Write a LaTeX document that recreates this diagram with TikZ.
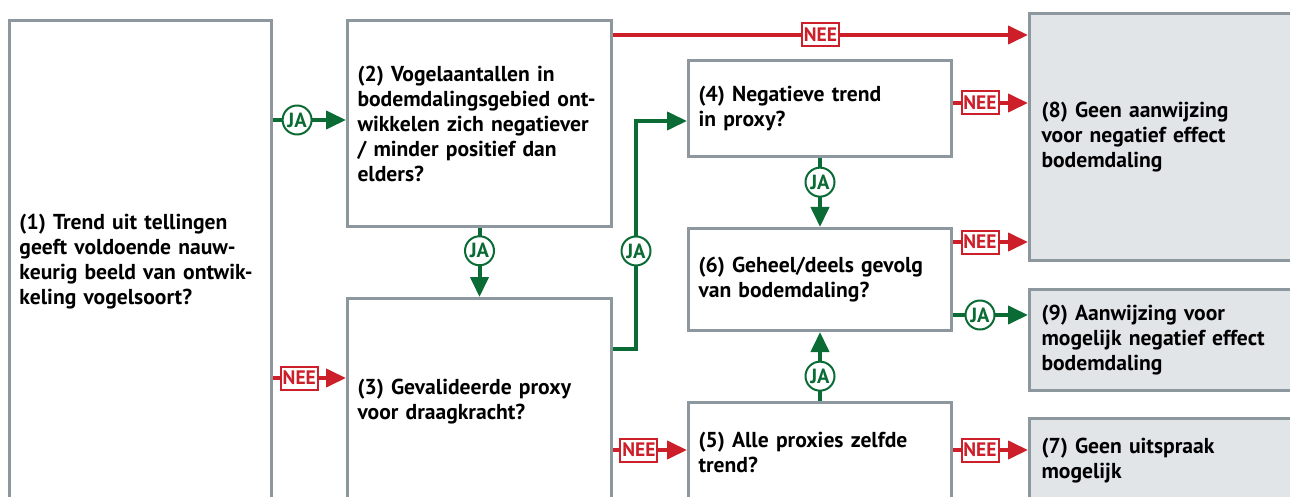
\documentclass[tikz,border=0pt]{standalone}
\usepackage{fontspec}
\setmainfont{PT Sans}
\usetikzlibrary{arrows.meta}
\definecolor{jagreen}{HTML}{0B6B35}
\definecolor{neered}{HTML}{CC1F2A}
\definecolor{boxgray}{HTML}{8D979E}
\definecolor{endfill}{HTML}{E1E5E8}
\begin{document}
\begin{tikzpicture}[x=1pt, y=-1pt,
  box/.style={rectangle, draw=boxgray, line width=3pt, anchor=north west, align=left,
    inner xsep=10pt, font=\fontsize{21.6}{25}\selectfont\bfseries},
  endbox/.style={box, fill=endfill, inner xsep=12pt},
  ja/.style={draw=jagreen, line width=4pt, -{Triangle[length=20pt, width=18pt]}},
  nee/.style={draw=neered, line width=4pt, -{Triangle[length=20pt, width=18pt]}},
  jalbl/.style={circle, draw=jagreen, line width=2pt, fill=white, text=jagreen, inner sep=0pt,
    minimum size=29pt, font=\fontsize{20.5}{20.5}\selectfont\bfseries},
  neelbl/.style={rectangle, draw=neered, line width=2pt, fill=white, text=neered, inner sep=0pt,
    minimum width=37pt, minimum height=23pt, font=\fontsize{19.5}{19.5}\selectfont\bfseries}]
  \clip (0,0) rectangle (1290,497);

  % questions
  \node[box, minimum width=262pt, minimum height=482pt, text width=242pt] (b1) at (8,19)
    {(1) Trend uit tellingen\\ geeft voldoende nauw-\\ keurig beeld van ontwik-\\ keling vogelsoort?};
  \node[box, minimum width=264pt, minimum height=206pt, text width=244pt] (b2) at (346,19)
    {(2) Vogelaantallen in\\ bodemdalingsgebied ont-\\ wikkelen zich negatiever\\ / minder positief dan\\ elders?};
  \node[box, minimum width=264pt, minimum height=206pt, text width=244pt] (b3) at (346,297)
    {(3) Gevalideerde proxy\\ voor draagkracht?};
  \node[box, minimum width=263pt, minimum height=96pt, text width=243pt] (b4) at (687,59)
    {(4) Negatieve trend\\ in proxy?};
  \node[box, minimum width=263pt, minimum height=102pt, text width=243pt] (b6) at (687,227)
    {(6) Geheel/deels gevolg\\ van bodemdaling?};
  \node[box, minimum width=263pt, minimum height=100pt, text width=243pt] (b5) at (687,401)
    {(5) Alle proxies zelfde\\ trend?};

  % outcomes
  \node[endbox, minimum width=272pt, minimum height=247pt, text width=248pt] (b8) at (1028,12)
    {(8) Geen aanwijzing\\ voor negatief effect\\ bodemdaling};
  \node[endbox, minimum width=272pt, minimum height=101pt, text width=248pt] (b9) at (1028,288)
    {(9) Aanwijzing voor\\ mogelijk negatief effect\\ bodemdaling};
  \node[endbox, minimum width=272pt, minimum height=84pt, text width=248pt] (b7) at (1028,417)
    {(7) Geen uitspraak\\ mogelijk};

  % JA
  \draw[ja] (b1.east |- 0,120) -- node[jalbl, pos=.33] {JA} (b2.west |- 0,120);
  \draw[ja] (b2.south) -- node[jalbl, pos=.33] {JA} (b3.north);
  \draw[ja] (b3.east |- 0,349) -- (636,349) -- node[jalbl, pos=.43] {JA} (636,121) -- (b4.west |- 0,121);
  \draw[ja] (b4.south) -- node[jalbl, pos=.35] {JA} (b6.north);
  \draw[ja] (b5.north) -- node[jalbl, pos=.36] {JA} (b6.south);
  \draw[ja] (b6.east |- 0,315) -- node[jalbl, pos=.36] {JA} (b9.west |- 0,315);

  % NEE
  \draw[nee] (b2.east |- 0,35) -- node[neelbl, pos=.5] {NEE} (b8.west |- 0,35);
  \foreach \from/\to/\y/\p in {b1/b3/378/.36, b3/b5/450/.35, b4/b8/103/.36, b6/b8/242/.36, b5/b7/450/.36}
    \draw[nee] (\from.east |- 0,\y) -- node[neelbl, pos=\p] {NEE} (\to.west |- 0,\y);
\end{tikzpicture}
\end{document}
